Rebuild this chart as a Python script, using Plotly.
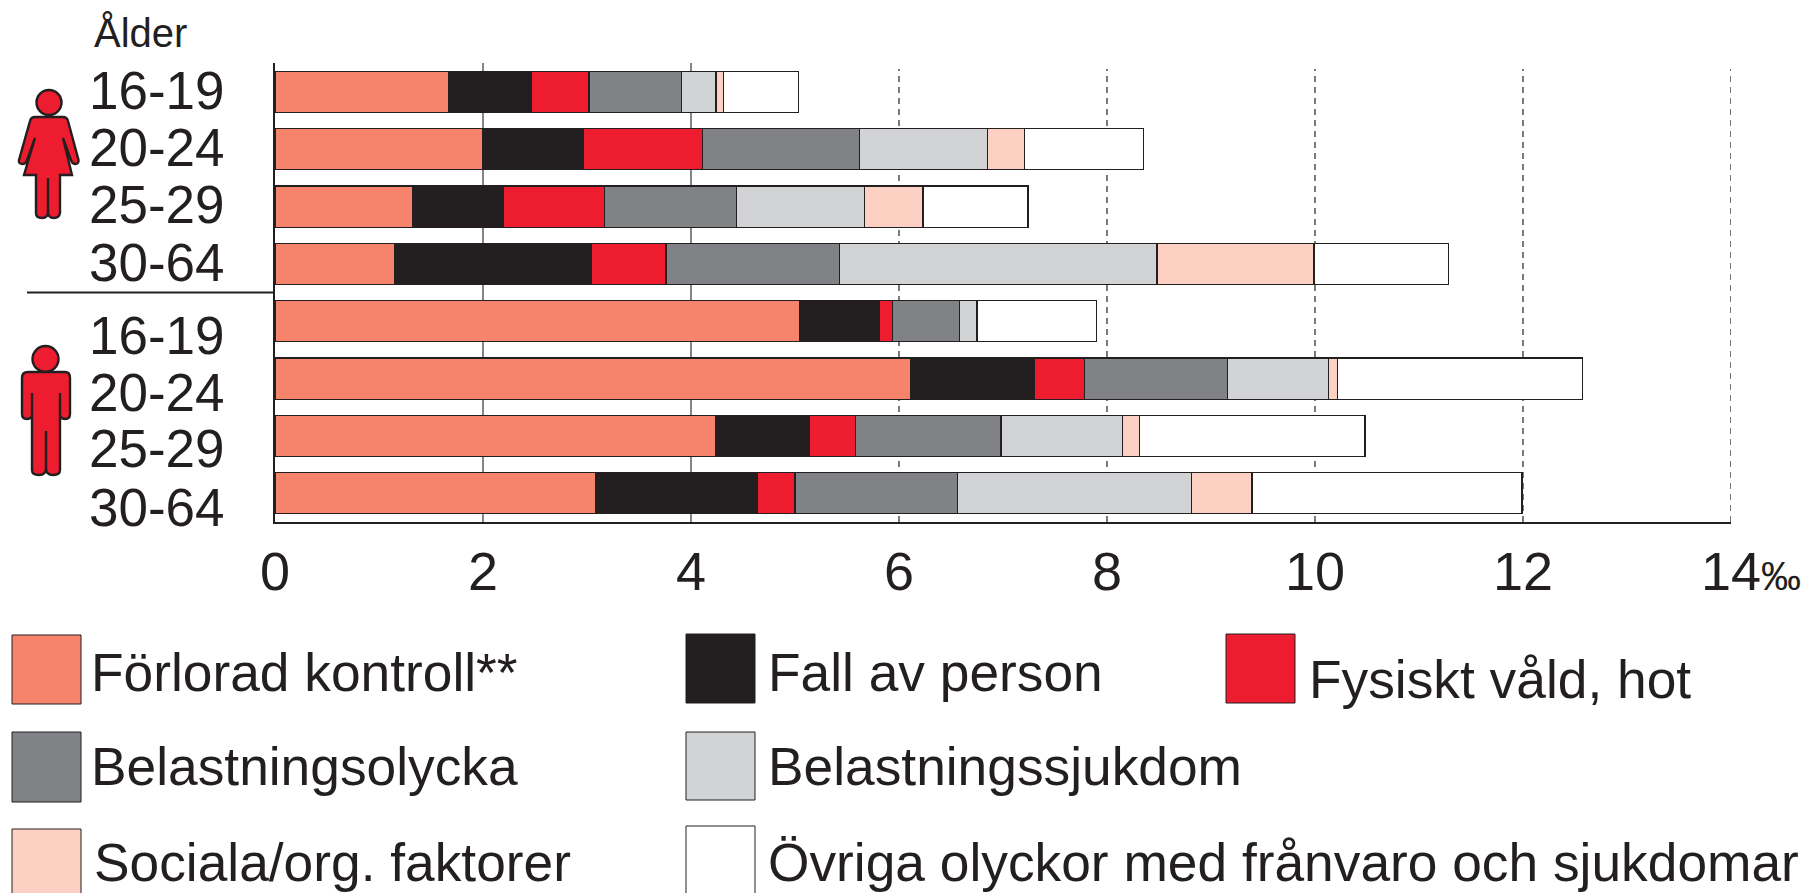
import plotly.graph_objects as go

W, H = 1805, 893
rows = ["K 16-19", "K 20-24", "K 25-29", "K 30-64", "M 16-19", "M 20-24", "M 25-29", "M 30-64"]
age_labels = ["16-19", "20-24", "25-29", "30-64", "16-19", "20-24", "25-29", "30-64"]

forlorad_kontroll = [1.67, 2.00, 1.32, 1.15, 5.04, 6.11, 4.24, 3.08]
fall_av_person = [0.80, 0.97, 0.88, 1.89, 0.77, 1.19, 0.90, 1.56]
fysiskt_vald = [0.55, 1.14, 0.97, 0.72, 0.13, 0.48, 0.44, 0.36]
belastningsolycka = [0.89, 1.51, 1.27, 1.67, 0.64, 1.38, 1.40, 1.56]
belastningssjukdom = [0.33, 1.23, 1.23, 3.05, 0.17, 0.97, 1.17, 2.25]
sociala_org = [0.07, 0.36, 0.56, 1.51, 0.00, 0.09, 0.16, 0.585]
ovriga = [0.72, 1.14, 1.01, 1.29, 1.15, 2.35, 2.17, 2.595]

series = [
    ("Förlorad kontroll**", forlorad_kontroll, "#F6846C"),
    ("Fall av person", fall_av_person, "#231F20"),
    ("Fysiskt våld, hot", fysiskt_vald, "#ED1C2E"),
    ("Belastningsolycka", belastningsolycka, "#808285"),
    ("Belastningssjukdom", belastningssjukdom, "#D1D3D4"),
    ("Sociala/org. faktorer", sociala_org, "#FDD0C4"),
    ("Övriga olyckor med frånvaro och sjukdomar", ovriga, "#FFFFFF"),
]
x_ticks = [0, 2, 4, 6, 8, 10, 12, 14]
solid_grid = [2, 4]
dashed_grid = [6, 8, 10, 12, 14]

INK = "#231F20"
FONT = "Liberation Sans"


def px(x):
    return x / W


def py(y):
    return 1 - y / H


fig = go.Figure()
for name, vals, col in series:
    fig.add_trace(go.Bar(y=rows, x=vals, name=name, orientation="h", width=0.717,
                         marker=dict(color=col, line=dict(color=INK, width=1.2)),
                         showlegend=False))

shapes, annots = [], []
for v in solid_grid:
    shapes.append(dict(type="line", xref="x", yref="paper", x0=v, x1=v, y0=py(522), y1=py(63),
                       layer="below", line=dict(color="#333333", width=1.2)))
for v in dashed_grid:
    shapes.append(dict(type="line", xref="x", yref="paper", x0=v, x1=v, y0=py(522), y1=py(69),
                       layer="below", line=dict(color="#333333", width=1.3, dash="6px 5px")))

# separator between women and men
shapes.append(dict(type="line", xref="paper", yref="paper", x0=px(27), x1=px(275), y0=py(292.5), y1=py(292.5),
                   line=dict(color=INK, width=2)))


def path(pts):
    out = []
    for cmd, coords in pts:
        out.append(cmd + " ".join(f"{px(coords[i]):.5f},{py(coords[i + 1]):.5f}" for i in range(0, len(coords), 2)))
    return " ".join(out) + " Z"


def icon(d):
    shapes.append(dict(type="path", xref="paper", yref="paper", path=d, fillcolor="#ED1C2E",
                       line=dict(color=INK, width=2.4)))


def head(cx, cy, r):
    shapes.append(dict(type="circle", xref="paper", yref="paper", x0=px(cx - r), x1=px(cx + r),
                       y0=py(cy - r), y1=py(cy + r), fillcolor="#ED1C2E", line=dict(color=INK, width=2.4)))


# woman
head(49, 102.5, 12.5)
icon(path([("M", [35, 117]), ("L", [63, 117]), ("Q", [67, 117, 68, 121]), ("L", [78.5, 160]),
           ("Q", [79, 164, 75, 164]), ("Q", [72, 164, 71, 160]), ("L", [63, 138]), ("L", [72, 175]),
           ("L", [60, 175]), ("L", [60, 213]), ("Q", [59, 218, 54, 218]), ("Q", [48, 218, 48, 212]),
           ("L", [48, 178]), ("L", [48, 212]), ("Q", [48, 218, 42, 218]), ("Q", [36, 218, 36, 213]),
           ("L", [36, 175]), ("L", [24, 175]), ("L", [35, 138]), ("L", [27, 160]),
           ("Q", [26, 164, 23, 164]), ("Q", [18, 164, 19, 160]), ("L", [30, 121]), ("Q", [31, 117, 35, 117])]))
# man
head(45.5, 359, 13)
icon(path([("M", [28, 372]), ("L", [65, 372]), ("Q", [70, 372, 70, 378]), ("L", [70, 414]),
           ("Q", [70, 419, 65, 419]), ("Q", [60, 419, 60, 414]), ("L", [60, 393]), ("L", [60, 470]),
           ("Q", [60, 475, 53, 475]), ("Q", [46, 475, 46, 468]), ("L", [46, 431]), ("L", [46, 468]),
           ("Q", [46, 475, 39, 475]), ("Q", [32, 475, 32, 470]), ("L", [32, 393]), ("L", [32, 414]),
           ("Q", [32, 419, 27, 419]), ("Q", [22, 419, 22, 414]), ("L", [22, 378]), ("Q", [22, 372, 28, 372])]))


def text(t, x, y, size, xanchor="left"):
    annots.append(dict(text=t, xref="paper", yref="paper", x=px(x), y=py(y), xanchor=xanchor, yanchor="middle",
                       showarrow=False, font=dict(family=FONT, size=size, color=INK), borderpad=0))


text("Ålder", 93, 33, 40)
label_y = [90, 147, 204, 262, 335, 392, 449, 507]
for lab, y in zip(age_labels, label_y):
    text(lab, 88, y, 53)
text("‰", 1760, 576, 40)

# hand-placed key, as in the reference
key = [(12, 635, 704, 90, 672), (686, 634, 703, 767, 672), (1226, 634, 703, 1308, 679),
       (12, 732, 802, 90, 766), (686, 732, 800, 767, 766),
       (12, 829, 900, 93, 862), (686, 826, 900, 767, 862)]
for (name, vals, col), (x0, y0, y1, tx, ty) in zip(series, key):
    shapes.append(dict(type="rect", xref="paper", yref="paper", x0=px(x0), x1=px(x0 + 69), y0=py(y0), y1=py(y1),
                       fillcolor=col, line=dict(color=INK, width=1)))
    text(name, tx, ty, 53.3)

fig.update_layout(
    width=W, height=H, margin=dict(l=0, r=0, t=0, b=0, autoexpand=False), paper_bgcolor="white", plot_bgcolor="white",
    barmode="stack", bargap=0.28, showlegend=False, shapes=shapes, annotations=annots,
    font=dict(family=FONT, color=INK),
    xaxis=dict(domain=[px(275), px(1731)], range=[0, 14], tickvals=x_ticks, showgrid=False, zeroline=False,
               showline=True, linecolor=INK, linewidth=1.5, ticks="", ticklabelstandoff=1,
               tickfont=dict(family=FONT, size=54, color=INK)),
    yaxis=dict(domain=[py(522), py(63.2)], categoryorder="array", categoryarray=rows, autorange="reversed",
               showticklabels=False, showgrid=False, zeroline=False, showline=True, linecolor=INK, linewidth=1.5,
               ticks=""),
)
fig.write_html("out.html", post_script="document.body.style.margin='0';document.body.style.overflow='hidden';",
               config={"displayModeBar": False})
